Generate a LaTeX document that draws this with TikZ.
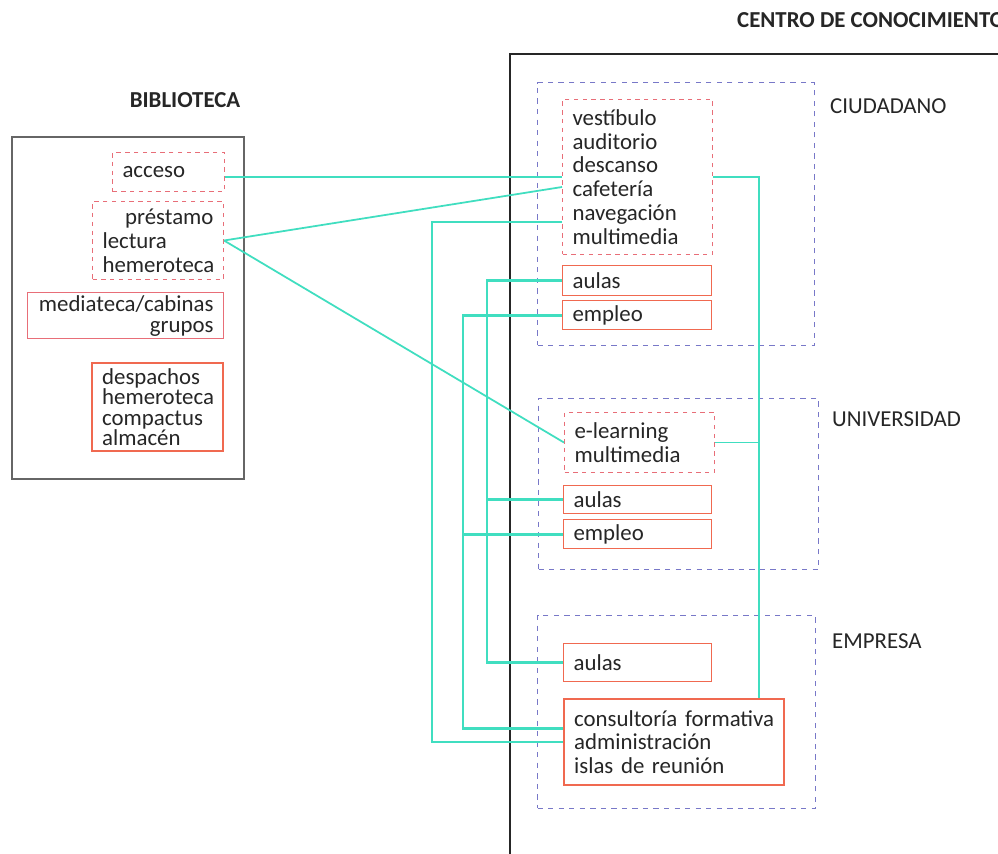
\documentclass[tikz,border=0pt]{standalone}
\usepackage{fontspec}
\setmainfont{Carlito}
\usetikzlibrary{calc}

\definecolor{linkteal}{RGB}{64,222,192}
\definecolor{dashred}{RGB}{232,110,120}
\definecolor{boxred}{RGB}{240,105,80}
\definecolor{groupblue}{RGB}{120,120,200}

\begin{document}
\begin{tikzpicture}[x=0.02cm,y=-0.02cm,
    every node/.style={font=\fontsize{13}{13.6}\selectfont,text=black!85},
    title/.style={font=\bfseries\fontsize{13}{13.6}\selectfont},
    outer/.style={rectangle,draw=black!60,line width=1.3pt,anchor=north west},
    group box/.style={rectangle,draw=groupblue,dash pattern=on 3pt off 3pt,
        line width=0.6pt,anchor=north west},
    room/.style={rectangle,draw=boxred,line width=0.7pt,anchor=north west,
        inner xsep=0.2cm,inner ysep=0pt,align=left},
    dashroom/.style={room,draw=dashred,dash pattern=on 2.5pt off 2.5pt,line width=0.6pt},
    link/.style={draw=linkteal,line width=1pt},
    thick link/.style={draw=linkteal,line width=1.7pt}]

    \useasboundingbox[fill=white] (0,0) rectangle (998,854);

    % biblioteca
    \node[title] (tbib) at (185,100) {BIBLIOTECA};
    \node[outer,minimum width=4.64cm,minimum height=6.84cm] (bib) at (11,136) {};
    \node[dashroom,text width=1.84cm,minimum height=0.78cm] (acceso) at (112,152) {acceso};
    \node[dashroom,text width=2.22cm,minimum height=1.56cm] (prestamo) at (92,201)
        {\makebox[2.22cm][r]{préstamo}\\lectura\\hemeroteca};
    \node[room,draw=dashred,align=right,text width=3.52cm,minimum height=0.92cm,
        font=\fontsize{13}{12}\selectfont] (media) at (27,292) {mediateca/cabinas\\grupos};
    \node[room,line width=1.3pt,text width=2.22cm,minimum height=1.76cm,
        font=\fontsize{13}{11.5}\selectfont] (despachos) at (91,362)
        {despachos\\hemeroteca\\compactus\\almacén};

    % centro de conocimiento
    \node[title,anchor=west] (tcentro) at (731,20) {CENTRO DE CONOCIMIENTO};
    \node[outer,draw=black!85,line width=1pt,minimum width=10.4cm,minimum height=16.4cm] (centro) at (509,53) {};

    \node[group box,minimum width=5.54cm,minimum height=5.26cm] (ciudadano) at (537,82) {};
    \node[group box,minimum width=5.6cm,minimum height=3.42cm] (universidad) at (538,398) {};
    \node[group box,minimum width=5.56cm,minimum height=3.86cm] (empresa) at (537,615) {};

    \node[anchor=west] (lciudadano) at (824,106) {CIUDADANO};
    \node[anchor=west] (luniversidad) at (826,419) {UNIVERSIDAD};
    \node[anchor=west] (lempresa) at (826,641) {EMPRESA};

    \node[dashroom,text width=2.6cm,minimum height=3.1cm] (vest) at (562,99)
        {vestíbulo\\auditorio\\descanso\\cafetería\\navegación\\multimedia};
    \node[room,text width=2.58cm,minimum height=0.6cm] (aulas1) at (562,265) {aulas};
    \node[room,text width=2.58cm,minimum height=0.58cm] (empleo1) at (562,300) {empleo};

    \node[dashroom,text width=2.6cm,minimum height=1.2cm] (elearning) at (564,412)
        {e-learning\\multimedia};
    \node[room,text width=2.56cm,minimum height=0.56cm] (aulas2) at (563,485) {aulas};
    \node[room,text width=2.56cm,minimum height=0.58cm] (empleo2) at (563,519) {empleo};

    \node[room,text width=2.56cm,minimum height=0.76cm] (aulas3) at (563,643) {aulas};
    \node[room,line width=1.3pt,text width=4.0cm,minimum height=1.72cm] (consult) at (563,698)
        {\mbox{consultoría formativa}\\administración\\islas de reunión};

    % links
    \draw[thick link] (acceso.east |- vest.west) -- (vest.west);
    \draw[link] (prestamo.east) -- ([yshift=-0.2cm]vest.west);
    \draw[link] (prestamo.east) -- (elearning.west);
    \draw[link] ([yshift=-0.9cm]vest.west) -- ++(-130,0) |- (consult.west);
    \draw[thick link] (aulas1.west) -- ++(-75,0) coordinate (aulasbus) |- (aulas3.west);
    \draw[thick link] (aulas2.west) -- (aulas2.west -| aulasbus);
    \draw[thick link] (empleo1.west) -- ++(-99,0) coordinate (empleobus) |- ([yshift=0.28cm]consult.west);
    \draw[thick link] (empleo2.west) -- (empleo2.west -| empleobus);
    \draw[link] (vest.east) -- ++(46,0) coordinate (rightbus) -- (rightbus |- consult.north);
    \draw[link] (elearning.east) -- (elearning.east -| rightbus);
\end{tikzpicture}
\end{document}
